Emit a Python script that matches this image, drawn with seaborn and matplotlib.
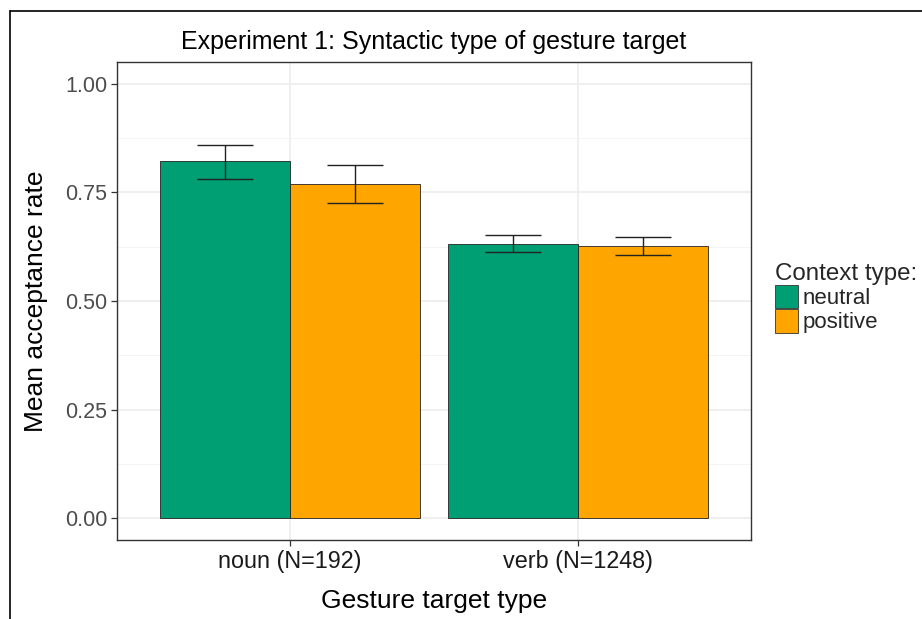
import matplotlib
matplotlib.use("Agg")
import matplotlib.pyplot as plt
from matplotlib.lines import Line2D
from matplotlib.patches import Patch
import seaborn as sns
import pandas as pd
import numpy as np

# ---- data ----
categories = ["noun (N=192)", "verb (N=1248)"]
contexts = ["neutral", "positive"]
neutral_mean = [0.823, 0.632]
positive_mean = [0.769, 0.627]
neutral_lo = [0.781, 0.613]
neutral_hi = [0.860, 0.652]
positive_lo = [0.726, 0.607]
positive_hi = [0.813, 0.647]
yticks = [0.00, 0.25, 0.50, 0.75, 1.00]
ytick_labels = ["0.00", "0.25", "0.50", "0.75", "1.00"]

colors = {"neutral": "#009E73", "positive": "#FFA500"}

df = pd.DataFrame({
    "type": categories * 2,
    "context": ["neutral"] * 2 + ["positive"] * 2,
    "mean": neutral_mean + positive_mean,
    "lo": neutral_lo + positive_lo,
    "hi": neutral_hi + positive_hi,
})

sns.set_style("white")
plt.rcParams["font.family"] = ["Liberation Sans", "DejaVu Sans"]

W, H = 922, 619
fig = plt.figure(figsize=(W / 100, H / 100), dpi=100)
ax = fig.add_axes([117 / W, 1 - 540 / H, (751 - 117) / W, (540 - 62) / H])

sns.barplot(data=df, x="type", y="mean", hue="context", order=categories,
            hue_order=contexts, palette=colors, errorbar=None, width=0.9,
            gap=0, edgecolor="#222222", linewidth=0.6, saturation=1,
            legend=False, ax=ax, zorder=3)

# error bars from bar geometry
for patch_list, ctx in zip([ax.patches[:2], ax.patches[2:4]], contexts):
    sub = df[df.context == ctx].set_index("type").loc[categories]
    xs = [p.get_x() + p.get_width() / 2 for p in patch_list]
    ys = sub["mean"].values
    yerr = np.vstack([ys - sub["lo"].values, sub["hi"].values - ys])
    ax.errorbar(xs, ys, yerr=yerr, fmt="none", ecolor="#222222",
                elinewidth=1.0, capsize=20, capthick=1.0, zorder=4)

ax.set_xlim(-0.6, 1.6)
ax.set_ylim(-0.05, 1.05)
ax.set_yticks(yticks)
ax.set_yticklabels(ytick_labels)
ax.set_yticks([0.125, 0.375, 0.625, 0.875], minor=True)
ax.grid(True, which="major", color="#EBEBEB", linewidth=1.1, zorder=0)
ax.grid(True, which="minor", axis="y", color="#F3F3F3", linewidth=0.6, zorder=0)
ax.set_axisbelow(True)

for s in ax.spines.values():
    s.set_color("#333333")
    s.set_linewidth(1.0)

ax.tick_params(axis="both", which="major", length=4, width=0.9,
               color="#333333", labelcolor="#4D4D4D", labelsize=15.5, pad=3,
               bottom=True, left=True)
ax.tick_params(axis="x", labelcolor="#1A1A1A", labelsize=16.8)
ax.tick_params(which="minor", length=0)

ax.set_xlabel("Gesture target type", fontsize=19, color="black", labelpad=12)
ax.set_ylabel("Mean acceptance rate", fontsize=19, color="black", labelpad=12)
ax.set_title("Experiment 1: Syntactic type of gesture target", fontsize=18,
             color="black", pad=9)

handles = [Patch(facecolor=colors[c], edgecolor="#333333", linewidth=0.6) for c in contexts]
leg = fig.legend(handles, contexts, title="Context type:", loc="upper left",
                 bbox_to_anchor=(775 / W, 1 - 263 / H), frameon=False,
                 fontsize=16, title_fontsize=17.4, handlelength=1.05,
                 handleheight=1.25, handletextpad=0.18, labelspacing=0.0,
                 borderpad=0, borderaxespad=0)
leg._legend_box.align = "left"

# outer frame
fig.add_artist(Line2D([9.5 / W, 9.5 / W], [0, 1 - 10.5 / H], color="black",
                      linewidth=1.2, transform=fig.transFigure))
fig.add_artist(Line2D([9.5 / W, 1], [1 - 10.5 / H, 1 - 10.5 / H], color="black",
                      linewidth=1.2, transform=fig.transFigure))

fig.savefig("out.png", dpi=100)
